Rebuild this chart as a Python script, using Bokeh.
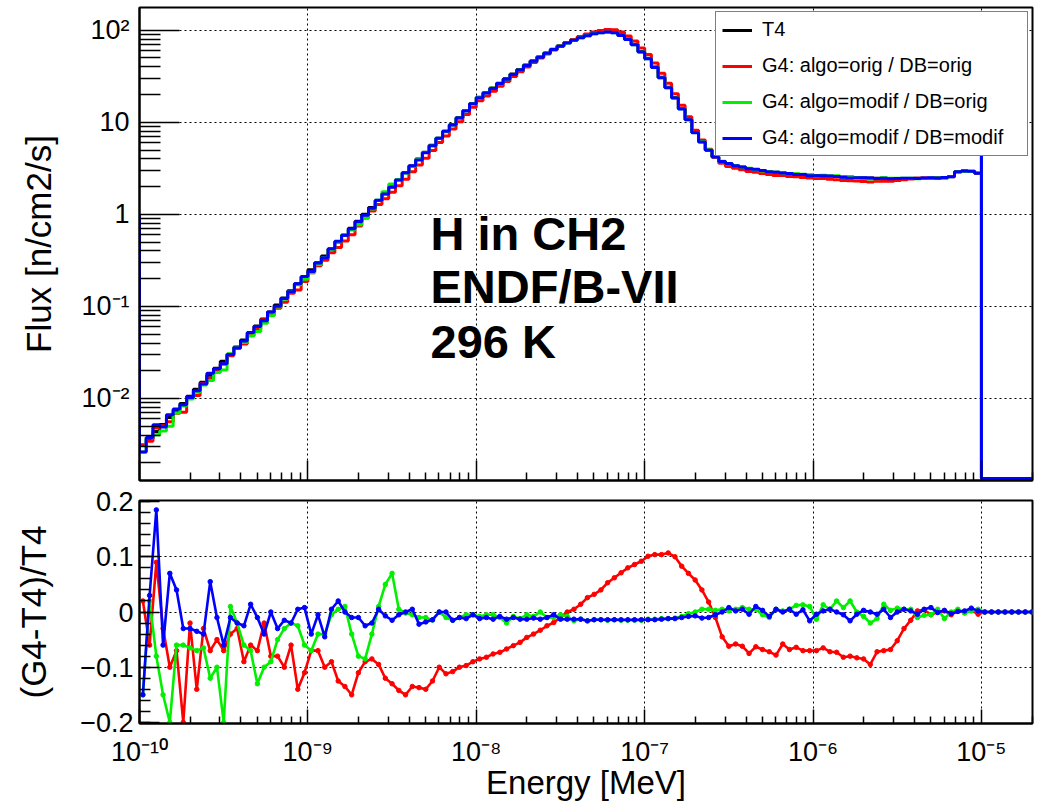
from bokeh.plotting import figure
from bokeh.layouts import column
from bokeh.models import Range1d, FixedTicker, CustomJSTickFormatter, Legend, LegendItem, Label
from bokeh.embed import file_html
from bokeh.resources import INLINE

# ---------------- data ----------------
# 25 logarithmic bins per decade from 1e-10 MeV to 1e-5 MeV; empty bins above 1e-5 MeV
n_bins = 125
bin_edges = [10 ** (-10 + 0.04 * k) for k in range(n_bins + 1)]
bin_centers = [10 ** (-9.98 + 0.04 * k) for k in range(n_bins + 8)]
x_min, x_max = 1e-10, 2.01e-5

# T4 reference flux per bin [n/cm2/s]
t4_flux = [
    0.00308, 0.00366, 0.00438, 0.00521, 0.00622, 0.00741, 0.00883, 0.01054, 0.01256, 0.01500,
    0.01786, 0.02128, 0.02541, 0.03027, 0.03614, 0.04305, 0.05129, 0.06124, 0.07295, 0.08710,
    0.1038, 0.1236, 0.1476, 0.1758, 0.2099, 0.2500, 0.2972, 0.3532, 0.4207, 0.5000,
    0.5943, 0.7063, 0.8395, 1.000, 1.189, 1.413, 1.679, 1.995, 2.377, 2.825,
    3.357, 3.990, 4.742, 5.649, 6.714, 7.980, 9.484, 11.27, 13.43, 15.96,
    18.71, 21.04, 23.60, 26.55, 29.79, 33.42, 37.50, 41.88, 46.56, 51.52,
    56.75, 62.23, 67.92, 73.45, 78.89, 84.14, 88.72, 92.68, 95.50, 96.83,
    95.06, 89.13, 80.35, 70.47, 58.88, 49.55, 39.81, 30.90, 23.99, 18.62,
    14.13, 10.72, 7.762, 6.166, 5.012, 4.217, 3.758, 3.532, 3.373, 3.251,
    3.148, 3.062, 2.979, 2.911, 2.858, 2.812, 2.767, 2.729, 2.698, 2.667,
    2.642, 2.618, 2.594, 2.570, 2.547, 2.523, 2.506, 2.489, 2.477, 2.466,
    2.460, 2.455, 2.455, 2.455, 2.455, 2.460, 2.466, 2.472, 2.483, 2.500,
    2.570, 2.897, 2.951, 2.924, 2.793,
]
left_edge_flux = 1.0      # first drawn level at the lower energy edge
source_bin_flux = 10.0    # level reached at 1e-5 MeV
empty_bin_floor = 1.35e-3 # empty bins drawn on the frame floor

# (G4 - T4) / T4 per bin
ratio_orig_orig = [
    0.02, -0.06, 0.09, -0.03, -0.10, -0.07, -0.20, -0.02, -0.14, -0.03,
    -0.07, -0.05, -0.07, -0.04, -0.03, -0.09, -0.06, -0.07, -0.02, -0.08,
    -0.08, -0.10, -0.06, -0.14, -0.11, -0.07, -0.07, -0.10, -0.09, -0.125,
    -0.135, -0.15, -0.11, -0.09, -0.085, -0.095, -0.12, -0.13, -0.142, -0.15,
    -0.135, -0.137, -0.14, -0.125, -0.10, -0.112, -0.108, -0.10, -0.097, -0.09,
    -0.085, -0.082, -0.076, -0.073, -0.067, -0.061, -0.055, -0.046, -0.04, -0.033,
    -0.025, -0.019, -0.01, 0.0, 0.005, 0.014, 0.026, 0.032, 0.04, 0.053,
    0.062, 0.071, 0.08, 0.086, 0.092, 0.101, 0.104, 0.104, 0.107, 0.10,
    0.083, 0.07, 0.058, 0.04, 0.018, -0.01, -0.045, -0.062, -0.058, -0.062,
    -0.075, -0.063, -0.068, -0.072, -0.078, -0.058, -0.068, -0.064, -0.07, -0.07,
    -0.07, -0.065, -0.072, -0.073, -0.082, -0.08, -0.083, -0.085, -0.095, -0.072,
    -0.07, -0.068, -0.052, -0.03, -0.015, 0.002, 0.004, -0.005, 0.0, 0.002,
    -0.005, 0.002, -0.001, 0.003, -0.004,
]
ratio_modif_orig = [
    -0.15, 0.02, -0.08, -0.15, -0.20, -0.06, -0.06, -0.065, -0.07, -0.065,
    -0.12, -0.10, -0.20, 0.01, -0.02, -0.06, -0.07, -0.13, -0.10, -0.09,
    -0.05, -0.03, -0.02, -0.025, -0.06, -0.07, -0.04, -0.04, -0.005, 0.005,
    0.01, -0.04, -0.08, -0.085, -0.04, 0.01, 0.05, 0.07, 0.005, -0.002,
    -0.005, -0.01, -0.01, -0.015, 0.0, -0.01, -0.015, -0.01, -0.005, -0.005,
    -0.008, -0.005, -0.005, -0.01, -0.02, -0.008, -0.012, -0.005, -0.008, 0.0,
    -0.01, -0.01, -0.005, -0.008, -0.016, -0.013, -0.016, -0.014, -0.014, -0.015,
    -0.014, -0.015, -0.015, -0.015, -0.015, -0.013, -0.013, -0.012, -0.012, -0.011,
    -0.008, -0.003, 0.0, 0.005, 0.005, 0.003, 0.005, 0.002, 0.005, 0.008,
    0.005, 0.005, -0.005, -0.01, 0.005, 0.002, 0.005, 0.012, 0.013, 0.01,
    -0.013, 0.013, 0.005, 0.02, 0.008, 0.02, 0.0, -0.008, -0.02, -0.012,
    0.014, 0.003, 0.007, 0.005, 0.005, -0.01, -0.006, -0.005, 0.005, -0.012,
    0.0, 0.005, -0.002, 0.002, 0.005,
]
ratio_modif_modif = [
    -0.15, 0.03, 0.185, -0.06, 0.07, 0.04, -0.03, -0.03, -0.035, -0.04,
    0.055, -0.01, -0.06, -0.01, -0.02, -0.025, 0.014, -0.01, -0.04, 0.0,
    -0.03, -0.015, -0.02, 0.005, 0.008, -0.04, -0.005, -0.045, 0.005, 0.02,
    0.0, -0.01, -0.01, -0.025, -0.02, 0.005, -0.007, -0.015, -0.005, 0.0,
    0.005, -0.022, -0.018, -0.014, 0.0, 0.0, -0.015, -0.01, -0.012, -0.005,
    -0.012, -0.01, -0.013, -0.008, -0.013, -0.01, -0.013, -0.013, -0.011, -0.013,
    -0.01, -0.005, -0.013, -0.013, -0.013, -0.013, -0.016, -0.014, -0.014, -0.014,
    -0.014, -0.014, -0.014, -0.014, -0.014, -0.014, -0.014, -0.013, -0.012, -0.012,
    -0.01, -0.008, -0.007, -0.011, -0.01, -0.005, 0.0, 0.008, 0.002, 0.005,
    -0.004, 0.01, 0.003, -0.008, 0.005, 0.0, 0.005, -0.004, 0.004, -0.016,
    -0.004, 0.002, 0.005, 0.0, -0.005, -0.016, -0.004, 0.003, 0.0, -0.004,
    0.005, -0.01, 0.0, 0.005, 0.002, -0.004, 0.005, 0.008, -0.001, 0.003,
    -0.003, 0.001, 0.002, 0.007, 0.002,
]
tail_ratio = [0.0, 0.0, 0.0, 0.0, 0.0, 0.0, 0.0, 0.0]

series_names = ["T4", "G4: algo=orig / DB=orig", "G4: algo=modif / DB=orig", "G4: algo=modif / DB=modif"]
series_colors = ["#000000", "#ff0000", "#00f000", "#0000ff"]

flux_ticks = [1e-2, 1e-1, 1.0, 10.0, 100.0]
flux_tick_labels = ["10\u207b\u00b2", "10\u207b\u00b9", "1", "10", "10\u00b2"]
energy_ticks = [1e-10, 1e-9, 1e-8, 1e-7, 1e-6, 1e-5]
energy_tick_labels = ["10\u207b\u00b9\u2070", "10\u207b\u2079", "10\u207b\u2078", "10\u207b\u2077",
                      "10\u207b\u2076", "10\u207b\u2075"]
ratio_ticks = [-0.2, -0.1, 0.0, 0.1, 0.2]
ratio_tick_labels = ["\u22120.2", "\u22120.1", "0", "0.1", "0.2"]

assert len(t4_flux) == n_bins
for r in (ratio_orig_orig, ratio_modif_orig, ratio_modif_modif):
    assert len(r) == n_bins

# ---------------- helpers ----------------
FONT = "Liberation Sans"


def fmt(vals, labs):
    return CustomJSTickFormatter(args=dict(vals=vals, labs=labs), code="""
        for (let i = 0; i < vals.length; i++) {
            const v = vals[i];
            if (Math.abs(v - tick) <= 1e-9 * Math.max(Math.abs(v), 1e-12)) return labs[i];
        }
        return " ";
    """)


def step_path(vals):
    xs = [bin_edges[0]]
    ys = [left_edge_flux]
    for k, v in enumerate(vals):
        xs += [bin_edges[k], bin_edges[k + 1]]
        ys += [v, v]
    xs += [bin_edges[-1], bin_edges[-1], x_max]
    ys += [source_bin_flux, empty_bin_floor, empty_bin_floor]
    return xs, ys


energy_minor = [m * 10.0 ** d for d in range(-10, -4) for m in range(2, 10) if m * 10.0 ** d < x_max]
flux_minor = [m * 10.0 ** d for d in range(-3, 3) for m in range(2, 10) if 1.28e-3 < m * 10.0 ** d < 176]
ratio_minor = [round(-0.2 + 0.02 * i, 3) for i in range(21)]

# ---------------- top panel ----------------
p1 = figure(x_axis_type="log", y_axis_type="log",
            x_range=Range1d(x_min, x_max), y_range=Range1d(1.285e-3, 176.6),
            width=1041, height=484,
            min_border_left=139, min_border_right=9, min_border_top=7, min_border_bottom=4,
            output_backend="svg", toolbar_location=None)

g4_flux = [
    [t * (1 + r) for t, r in zip(t4_flux, ratio_orig_orig)],
    [t * (1 + r) for t, r in zip(t4_flux, ratio_modif_orig)],
    [t * (1 + r) for t, r in zip(t4_flux, ratio_modif_modif)],
]
renderers = []
for vals, col in zip([t4_flux] + g4_flux, series_colors):
    xs, ys = step_path(vals)
    renderers.append(p1.line(xs, ys, line_color=col, line_width=3))

xt = FixedTicker(ticks=energy_ticks, minor_ticks=energy_minor)
yt = FixedTicker(ticks=flux_ticks, minor_ticks=flux_minor)
p1.xaxis.ticker = xt
p1.xgrid.ticker = xt
p1.yaxis.ticker = yt
p1.ygrid.ticker = yt
p1.xaxis.major_label_text_font_size = "2px"
p1.xaxis.major_label_text_alpha = 0.0
p1.xaxis.major_label_standoff = 0
p1.xaxis.major_tick_in = 20
p1.xaxis.major_tick_out = 0
p1.xaxis.minor_tick_in = 8
p1.xaxis.minor_tick_out = 0
p1.yaxis.formatter = fmt(flux_ticks, flux_tick_labels)
p1.yaxis.major_tick_in = 40
p1.yaxis.major_tick_out = 0
p1.yaxis.minor_tick_in = 21
p1.yaxis.minor_tick_out = 0
p1.yaxis.major_label_text_font = FONT
p1.yaxis.major_label_text_font_size = "27px"
p1.yaxis.major_label_text_color = "black"
p1.yaxis.major_label_standoff = 10
p1.yaxis.axis_label = "Flux [n/cm2/s]"
p1.yaxis.axis_label_text_font = FONT
p1.yaxis.axis_label_text_font_size = "35px"
p1.yaxis.axis_label_text_font_style = "normal"
p1.yaxis.axis_label_text_color = "black"
p1.yaxis.axis_label_standoff = 20

legend = Legend(
    items=[LegendItem(label=n, renderers=[r]) for n, r in zip(series_names, renderers)],
    location="top_right", padding=6, spacing=13, margin=4,
    label_height=22, glyph_height=22, glyph_width=30, label_standoff=10, label_width=259,
    label_text_font=FONT, label_text_font_size="20px", label_text_color="black",
    border_line_color="black", border_line_width=1.5,
    background_fill_color="white", background_fill_alpha=1.0,
)
p1.add_layout(legend)

annot_lines = ["H in CH2", "ENDF/B-VII", "296 K"]
annot_y = [247, 194, 139]
for txt, yy in zip(annot_lines, annot_y):
    p1.add_layout(Label(x=291, y=yy, x_units="screen", y_units="screen", text=txt,
                        text_font=FONT, text_font_style="bold", text_font_size="47px",
                        text_color="black", text_baseline="alphabetic", text_align="left"))

# ---------------- bottom panel ----------------
p2 = figure(x_axis_type="log",
            x_range=Range1d(x_min, x_max), y_range=Range1d(-0.202, 0.202),
            width=1041, height=319,
            min_border_left=139, min_border_right=9, min_border_top=16, min_border_bottom=79,
            output_backend="svg", toolbar_location=None)

for r, col in zip([ratio_orig_orig, ratio_modif_orig, ratio_modif_modif], series_colors[1:]):
    yy = r + tail_ratio
    p2.line(bin_centers, yy, line_color=col, line_width=2.6)
    p2.scatter(bin_centers, yy, size=4.5, color=col)

xt2 = FixedTicker(ticks=energy_ticks, minor_ticks=energy_minor)
yt2 = FixedTicker(ticks=ratio_ticks, minor_ticks=ratio_minor)
p2.xaxis.ticker = xt2
p2.xgrid.ticker = xt2
p2.yaxis.ticker = yt2
p2.ygrid.ticker = FixedTicker(ticks=[-0.1, 0.0, 0.1])
p2.xaxis.formatter = fmt(energy_ticks, energy_tick_labels)
p2.yaxis.formatter = fmt(ratio_ticks, ratio_tick_labels)
p2.xaxis.major_tick_in = 14
p2.xaxis.major_tick_out = 0
p2.xaxis.minor_tick_in = 7
p2.xaxis.minor_tick_out = 0
p2.yaxis.major_tick_in = 20
p2.yaxis.major_tick_out = 0
p2.yaxis.minor_tick_in = 11
p2.yaxis.minor_tick_out = 0
for ax in (p2.xaxis, p2.yaxis):
    ax.major_label_text_font = FONT
    ax.major_label_text_font_size = "27px"
    ax.major_label_text_color = "black"
    ax.axis_label_text_font = FONT
    ax.axis_label_text_font_style = "normal"
    ax.axis_label_text_color = "black"
p2.xaxis.axis_label_text_font_size = "33px"
p2.yaxis.axis_label_text_font_size = "35px"
p2.xaxis.major_label_standoff = 13
p2.xaxis.axis_label = "Energy [MeV]"
p2.xaxis.axis_label_standoff = -6
p2.yaxis.major_label_standoff = 6
p2.yaxis.axis_label = "(G4-T4)/T4"
p2.yaxis.axis_label_standoff = 24

for p in (p1, p2):
    p.outline_line_color = "black"
    p.outline_line_width = 2
    p.background_fill_color = "white"
    p.border_fill_color = "white"
    for ax in (p.xaxis, p.yaxis):
        ax.axis_line_color = "black"
        ax.axis_line_width = 2
        ax.major_tick_line_color = "black"
        ax.major_tick_line_width = 1.5
        ax.minor_tick_line_color = "black"
        ax.minor_tick_line_width = 1.5
    for g in (p.xgrid, p.ygrid):
        g.grid_line_color = "black"
        g.grid_line_width = 1
        g.grid_line_dash = "2 3"
        g.grid_line_alpha = 1.0

layout = column(p1, p2, spacing=0)
open("out.html", "w").write(file_html(layout, INLINE))
